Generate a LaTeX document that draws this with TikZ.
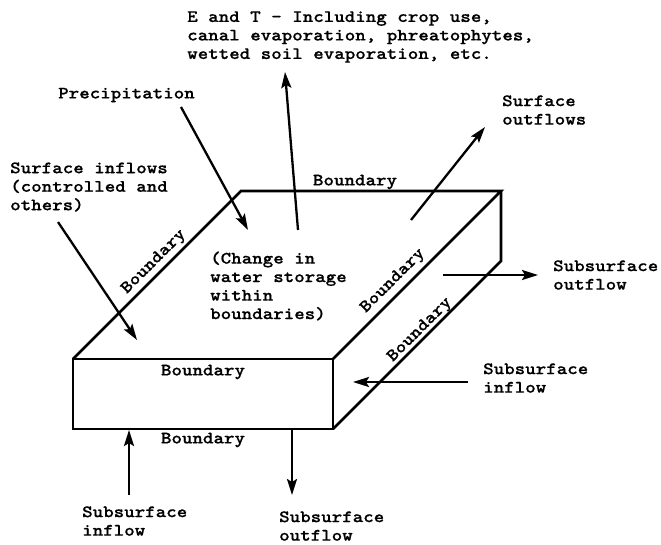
\documentclass[tikz,border=0pt]{standalone}
\usepackage{fontspec}
\setmonofont[FakeStretch=1.15,FakeBold=0.6]{lmmonolt10-bold.otf}
\usepackage{tikz}
\usetikzlibrary{arrows.meta}

\begin{document}
\begin{tikzpicture}[ x=1pt, y=-1pt,
      flow/.style={ line width=2.3pt, ->, >={Stealth[length=16pt,width=10pt,inset=3pt]}},
      edge line/.style={ line width=2.8pt, line join=miter},
      every node/.style={color=black, inner sep=0pt,
        font=\ttfamily\fontsize{17.4}{18.5}\selectfont},
      label text/.style={anchor=west, align=left},
      boundary/.style={rotate=45}
      ]
      \useasboundingbox (0,0) rectangle (661,544);

      % box
      \coordinate (FrontTL) at (73,359);
      \coordinate (FrontTR) at (333,359);
      \coordinate (FrontBR) at (333,429);
      \coordinate (FrontBL) at (73,429);
      \coordinate (BackTL)  at (241,191);
      \coordinate (BackTR)  at (501,191);
      \coordinate (BackBR)  at (501,261);
      \draw[edge line] (FrontTL) -- (FrontTR) -- (FrontBR) -- (FrontBL) -- cycle;
      \draw[edge line] (FrontTL) -- (BackTL) -- (BackTR) -- (FrontTR);
      \draw[edge line] (BackTR) -- (BackBR) -- (FrontBR);

      % boundary labels
      \node (BndBack)   at (355,182) {Boundary};
      \node (BndTop)    at (203,372) {Boundary};
      \node (BndBottom) at (203,440) {Boundary};
      \node[boundary] (BndLeft)  at (154,262) {Boundary};
      \node[boundary] (BndMid)   at (393,281) {Boundary};
      \node[boundary] (BndRight) at (420,330) {Boundary};

      \node[label text] (Storage) at (210,286) {(Change in\\water storage\\within\\boundaries)};

      % flows in and out
      \node[label text] (ET) at (187,37) {E and T - Including crop use,\\canal evaporation, phreatophytes,\\wetted soil evaporation, etc.};
      \coordinate (ETfoot) at (298,230);
      \coordinate (ETtip)  at (285,72);
      \draw[flow] (ETfoot) -- (ETtip);

      \node[label text] (Precip) at (58,95) {Precipitation};
      \coordinate (Precipfoot) at (181,107);
      \coordinate (Preciptip)  at (248,230);
      \draw[flow] (Precipfoot) -- (Preciptip);

      \node[label text] (SurfIn) at (10,187) {Surface inflows\\(controlled and\\others)};
      \coordinate (SurfInfoot) at (58,222);
      \coordinate (SurfIntip)  at (137,340);
      \draw[flow] (SurfInfoot) -- (SurfIntip);

      \node[label text] (SurfOut) at (502,110) {Surface\\outflows};
      \coordinate (SurfOutfoot) at (411,220);
      \coordinate (SurfOuttip)  at (485,127);
      \draw[flow] (SurfOutfoot) -- (SurfOuttip);

      \node[label text] (SubOutR) at (553,275) {Subsurface\\outflow};
      \coordinate (SubOutRfoot) at (443,275);
      \coordinate (SubOutRtip)  at (538,275);
      \draw[flow] (SubOutRfoot) -- (SubOutRtip);

      \node[label text] (SubInR) at (483,378) {Subsurface\\inflow};
      \coordinate (SubInRfoot) at (468,382);
      \coordinate (SubInRtip)  at (353,382);
      \draw[flow] (SubInRfoot) -- (SubInRtip);

      \node[label text] (SubInB) at (82,521) {Subsurface\\inflow};
      \coordinate (SubInBfoot) at (129,495);
      \coordinate (SubInBtip)  at (129,430);
      \draw[flow] (SubInBfoot) -- (SubInBtip);

      \node[label text] (SubOutB) at (279,526) {Subsurface\\outflow};
      \coordinate (SubOutBfoot) at (292,430);
      \coordinate (SubOutBtip)  at (292,495);
      \draw[flow] (SubOutBfoot) -- (SubOutBtip);
    \end{tikzpicture}
\end{document}
